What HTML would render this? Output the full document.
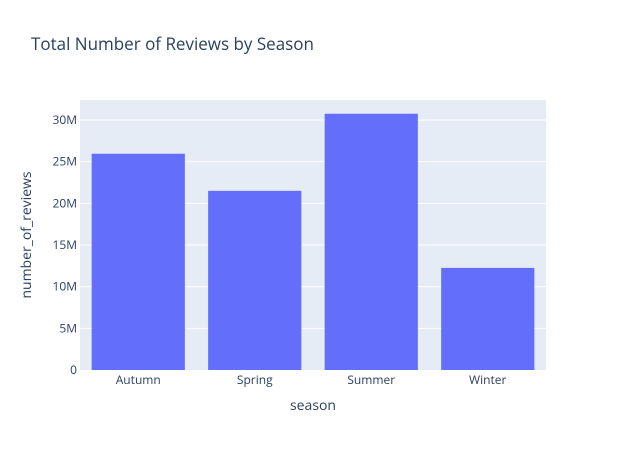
<!DOCTYPE html>
<html><head><meta charset="utf-8"><style>
body{margin:0;background:#fff;font-family:"Open Sans","Liberation Sans",sans-serif;}
svg text{font-family:"Open Sans","Liberation Sans",sans-serif;}
</style></head><body>
<svg id="chart" width="626" height="450">
<rect width="626" height="450" fill="#fff"/>
<text x="31" y="50" font-size="17" fill="#2a3f5f">Total Number of Reviews by Season</text>
<rect x="80" y="100" width="466" height="270" fill="#e5ecf6"/>
<g id="grid"></g><g id="bars"></g><g id="yticks"></g><g id="xticks"></g>
<text x="313" y="410" font-size="14" fill="#2a3f5f" text-anchor="middle">season</text>
<text transform="translate(31,235) rotate(-90)" font-size="14" fill="#2a3f5f" text-anchor="middle">number_of_reviews</text>
</svg>
<script>
const categories=["Autumn","Spring","Summer","Winter"];
const values=[25.95,21.5,30.75,12.25];
const tickValues=[0,5,10,15,20,25,30];
const tickLabels=["0","5M","10M","15M","20M","25M","30M"];
const NS="http://www.w3.org/2000/svg";
const x0=80,w=466,yBase=370,h=270,yMax=32.4;
const y=v=>yBase-v/yMax*h;
const band=w/categories.length;
function mk(t,a,p){const e=document.createElementNS(NS,t);for(const k in a)e.setAttribute(k,a[k]);p.appendChild(e);return e;}
const grid=document.getElementById('grid'),bars=document.getElementById('bars'),yt=document.getElementById('yticks'),xt=document.getElementById('xticks');
tickValues.forEach((v,i)=>{
 if(v>0){const l=mk('line',{x1:x0,x2:x0+w,y1:y(v),y2:y(v),stroke:'#fff','stroke-width':1},grid);
 
 }
 const t=mk('text',{x:x0-3,y:y(v)+4,'font-size':12,fill:'#2a3f5f','text-anchor':'end'},yt);
 t.textContent=tickLabels[i];
 
 
});
categories.forEach((c,i)=>{
 const cx=x0+band*(i+0.5),bw=band*0.8;
 const r=mk('rect',{x:cx-bw/2,y:y(values[i]),width:bw,height:yBase-y(values[i]),fill:'#636efa'},bars);
 
 
 const t=mk('text',{x:cx,y:yBase+14,'font-size':12,fill:'#2a3f5f','text-anchor':'middle'},xt);
 t.textContent=c;
 
 
});
</script>
</body></html>
